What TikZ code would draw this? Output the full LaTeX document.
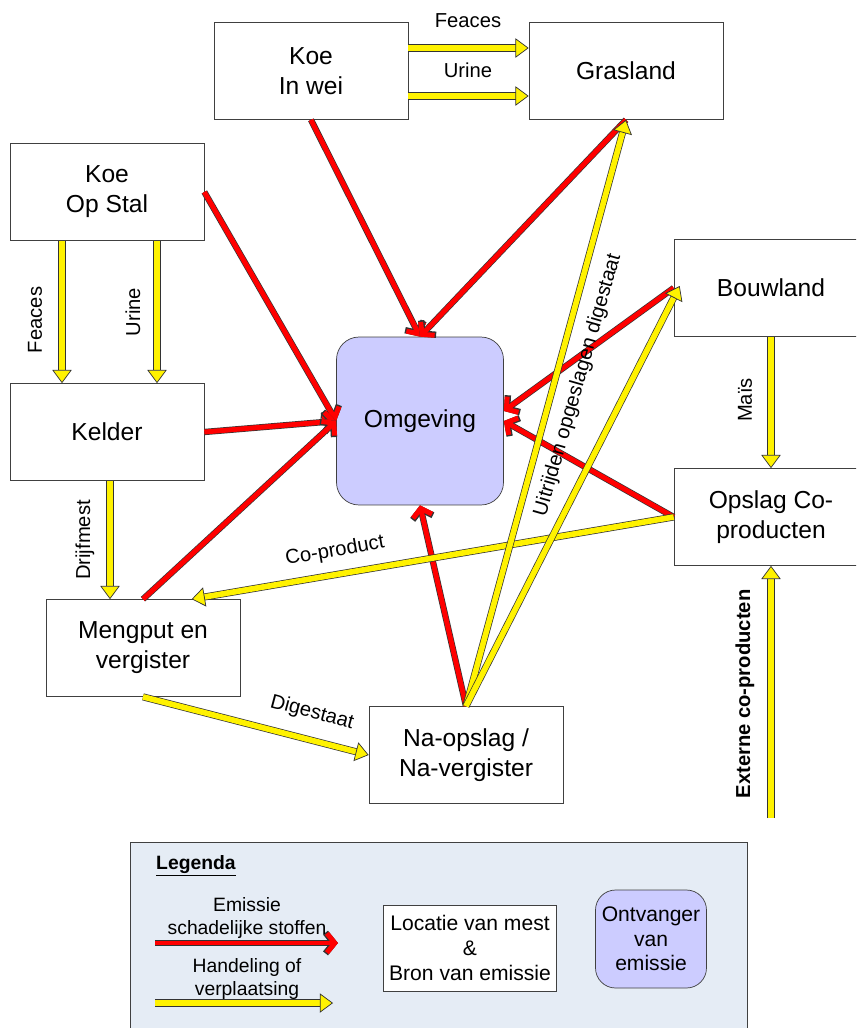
\documentclass[tikz,border=0pt]{standalone}
\usepackage{fontspec}
\setmainfont{Liberation Sans}
\usetikzlibrary{arrows.meta,calc}
\definecolor{omgblue}{rgb}{0.8,0.8,1.0}
\definecolor{legblue}{rgb}{0.9,0.925,0.96}

\begin{document}
\begin{tikzpicture}[x=0.02cm,y=-0.02cm,
  box/.style={draw=black!75,fill=white,minimum width=3.88cm,minimum height=1.94cm,align=center,font=\fontsize{14}{17}\selectfont},
  lbl/.style={font=\fontsize{11.5}{13}\selectfont},
  handel/.style={draw=black!80,line width=0.4pt,double=yellow,double distance=3.2pt,-{Triangle[length=7.5pt,width=11pt,fill=yellow,line width=0.4pt]}},
  emis/.style={draw=red,line width=2.8pt,-{Straight Barb[length=4.5pt,width=11pt,line width=2.8pt]},
    preaction={draw=black!80,line width=3.6pt,-{Straight Barb[length=4.8pt,width=11.8pt,line width=3.6pt]}}}]
\clip (0,0) rectangle (856,1028);
\fill[white] (0,0) rectangle (856,1028);
%================================================================
%	Boxes
\node[box] (koewei) at (311,71) {Koe\\In wei};
\node[box] (grasland) at (626,71) {Grasland};
\node[box] (stal) at (107,192) {Koe\\Op Stal};
\node[box] (bouwland) at (771,288) {Bouwland};
\node[box] (kelder) at (107,432) {Kelder};
\node[box] (opslag) at (771,517) {Opslag Co-\\producten};
\node[box] (mengput) at (143,648) {Mengput en\\vergister};
\node[box] (naopslag) at (466,755) {Na-opslag /\\Na-vergister};
\node[box,fill=omgblue,rounded corners=0.45cm,minimum width=3.34cm,minimum height=3.36cm] (omgeving) at (420,421) {Omgeving};
%================================================================
%	Emissie
\draw[emis] (koewei.south) -- (omgeving.north);
\draw[emis] (grasland.south) -- (omgeving.north);
\draw[emis] (stal.east) -- (omgeving.west);
\draw[emis] (kelder.east) -- (omgeving.west);
\draw[emis] (mengput.north) -- (omgeving.west);
\draw[emis] (naopslag.north) -- (omgeving.south);
\draw[emis] (bouwland.west) -- ($(omgeving.east)+(0,-10)$);
\draw[emis] (opslag.west) -- (omgeving.east);
%================================================================
%	Handeling
\draw[handel] ($(koewei.east)+(0,-23)$) -- ($(grasland.west)+(0,-23)$);
\draw[handel] ($(koewei.east)+(0,25)$) -- ($(grasland.west)+(0,25)$);
\node[lbl] (lfeaces1) at (468,21) {Feaces};
\node[lbl] (lurine1) at (468,70) {Urine};
%----------------------------------------------------------------
\draw[handel] ($(stal.south)+(-45,0)$) -- ($(kelder.north)+(-45,0)$);
\draw[handel] ($(stal.south)+(50,0)$) -- ($(kelder.north)+(50,0)$);
\node[lbl,rotate=90] (lfeaces2) at (35,320) {Feaces};
\node[lbl,rotate=90] (lurine2) at (133,312) {Urine};
%----------------------------------------------------------------
\draw[handel] ($(kelder.south)+(3,0)$) -- ($(kelder.south |- mengput.north)+(3,0)$);
\node[lbl,rotate=90] (ldrijf) at (85,540) {Drijfmest};
%----------------------------------------------------------------
\draw[handel] (bouwland.south) -- (opslag.north);
\node[lbl,rotate=90] (lmais) at (745,400) {Maïs};
\coordinate (extern) at (771,818);
\draw[handel] (extern) -- (opslag.south);
\node[lbl,rotate=90,font=\fontsize{11.5}{13}\selectfont\bfseries] (lextern) at (745,694) {Externe co-producten};
%----------------------------------------------------------------
\draw[handel] (opslag.west) -- ($(mengput.north)!0.5!(mengput.north east)$);
\node[lbl,rotate=10] (lcoprod) at (335,551) {Co-product};
\draw[handel] (mengput.south) -- (naopslag.west);
\node[lbl,rotate=-15] (ldigest) at (312,713) {Digestaat};
\draw[handel] (naopslag.north) -- (grasland.south);
\draw[handel] (naopslag.north) -- ($(bouwland.west)+(6,-2)$);
\node[lbl,rotate=74] (luitrij) at (578,385) {Uitrijden opgeslagen digestaat};
%================================================================
%	Legenda
\draw[draw=black!75,fill=legblue] (130,842) rectangle (747,1035);
\node[font=\fontsize{11}{12}\selectfont\bfseries,anchor=west] (legenda) at (150,866) {\underline{Legenda}};
\coordinate (emisa) at (155,943);
\coordinate (emisb) at (338,943);
\draw[emis] (emisa) -- (emisb);
\node[lbl,align=center,font=\fontsize{11}{13}\selectfont] (lemis) at (247,918) {Emissie\\schadelijke stoffen};
\coordinate (handa) at (155,1003);
\coordinate (handb) at (333,1003);
\draw[handel] (handa) -- (handb);
\node[lbl,align=center,font=\fontsize{11}{13}\selectfont] (lhand) at (247,979) {Handeling of\\verplaatsing};
\node[box,minimum width=3.46cm,minimum height=1.72cm,font=\fontsize{12}{14}\selectfont] (locatie) at (470,948) {Locatie van mest\\\&\\Bron van emissie};
\node[box,fill=omgblue,rounded corners=0.4cm,minimum width=2.22cm,minimum height=1.96cm,font=\fontsize{12}{14}\selectfont] (ontvanger) at (651,939) {Ontvanger\\van\\emissie};
%================================================================
\end{tikzpicture}
\end{document}
